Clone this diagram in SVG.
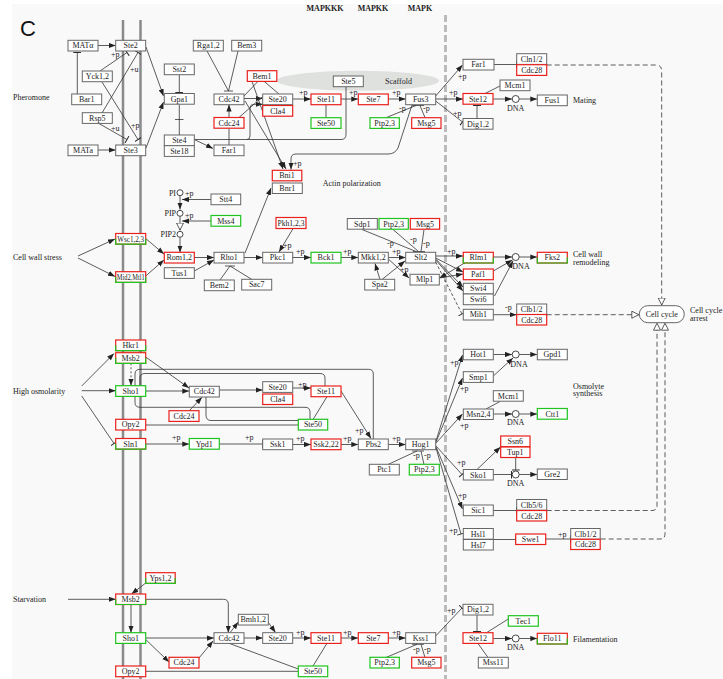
<svg xmlns="http://www.w3.org/2000/svg" width="723" height="679" viewBox="0 0 723 679">
<defs>
<style>
.b{fill:#fff;stroke:#666;stroke-width:1}
.r{fill:#fff;stroke:#e8201c;stroke-width:1.2}
.g{fill:#fff;stroke:#1fc41f;stroke-width:1.2}
.gs{fill:none;stroke:#1fc41f;stroke-width:1.2}
.t{font-family:"Liberation Serif",serif;font-size:8px;text-anchor:middle;fill:#222}
.s{font-family:"Liberation Serif",serif;font-size:8px;fill:#222}
.h{font-family:"Liberation Serif",serif;font-size:8px;font-weight:bold;text-anchor:middle;fill:#222}
.l{stroke:#333;stroke-width:0.8;fill:none}
.a{marker-end:url(#ah)}
.i{marker-end:url(#bar)}
.o{marker-end:url(#ot)}
.d{stroke-dasharray:5,3}
.c{fill:#fff;stroke:#333;stroke-width:0.9}
.mem{stroke:#8a8a8a;stroke-width:2.5}
</style>
<marker id="ah" viewBox="0 0 8 6" markerWidth="7" markerHeight="5.5" refX="8" refY="3" orient="auto" markerUnits="userSpaceOnUse"><path d="M0,0L8,3L0,6z" fill="#222"/></marker>
<marker id="bar" viewBox="0 0 2 10" markerWidth="2" markerHeight="8" refX="1" refY="5" orient="auto" markerUnits="userSpaceOnUse"><path d="M1,0V10" stroke="#222" stroke-width="1.2"/></marker>
<marker id="ot" viewBox="0 0 8 8" markerWidth="8" markerHeight="8" refX="8" refY="4" orient="auto" markerUnits="userSpaceOnUse"><path d="M0.5,0.5L7.5,4L0.5,7.5z" fill="#fff" stroke="#333" stroke-width="0.8"/></marker>
</defs>
<rect x="0" y="0" width="723" height="679" fill="#fff"/>
<rect x="12" y="4" width="711" height="675" fill="#f9f9f9"/>
<text x="20" y="36" font-family="Liberation Sans,sans-serif" font-size="22" fill="#111">C</text>
<line class="mem" x1="123" y1="20" x2="123" y2="679"/>
<line class="mem" x1="140.5" y1="20" x2="140.5" y2="679"/>
<line x1="445.5" y1="15" x2="445.5" y2="679" stroke="#bbb" stroke-width="3" stroke-dasharray="7,3"/>
<ellipse cx="358" cy="80.7" rx="81" ry="10" fill="#dfe1df"/>
<text class="h" x="325" y="11">MAPKKK</text>
<text class="h" x="373" y="11">MAPKK</text>
<text class="h" x="420" y="11">MAPK</text>
<text class="s" x="13" y="100">Pheromone</text>
<text class="s" x="13" y="259.5">Cell wall stress</text>
<text class="s" x="13" y="393.5">High osmolarity</text>
<text class="s" x="13" y="601.5">Starvation</text>
<text class="s" x="385" y="84">Scaffold</text>
<text class="s" x="322.7" y="186">Actin polarization</text>
<text class="s" x="573" y="103">Mating</text>
<text class="s" x="573" y="257">Cell wall</text>
<text class="s" x="573" y="265">remodeling</text>
<text class="s" x="573" y="388.5">Osmolyte</text>
<text class="s" x="573" y="396">synthesis</text>
<text class="s" x="690" y="313" font-size="7.5">Cell cycle</text>
<text class="s" x="690" y="320.5" font-size="7.5">arrest</text>
<text class="s" x="573" y="642">Filamentation</text>

<g id="connectors">
<path class="l a" d="M97.7,45.5H115.7"/>
<path class="l a" d="M97.7,150H115.7"/>
<path class="l i" d="M77.3,94V52.5"/>
<path class="l i" d="M100,71L127,52.5"/>
<path class="l i" d="M102,113L138,52.5"/>
<path class="l i" d="M102,82L138,139.5"/>
<path class="l i" d="M98,123L127,139.5"/>
<path class="l a" d="M146,47L163.5,96"/>
<path class="l a" d="M146,148L163.5,102"/>
<path class="l i" d="M179.3,75V92.5"/>
<path class="l" d="M179.3,104.5V135M175,119.5H183.5"/>
<path class="l a" d="M194.3,139.5L213,148.5"/>
<path class="l" d="M194.3,139.5H341Q346,139.5 346,134.5V86.7"/>
<path class="l a" d="M247,139.5Q250,139.5 250,136V108Q250,104.3 254,104.3H262.7"/>
<path class="l a" d="M244,98.5H262.7"/>
<path class="l" d="M258,81.3L244,96M264,81.3L279,94"/>
<path class="l" d="M239,117.5L262.7,96.5"/>
<path class="l a" d="M252,81.5L283,169"/>
<path class="l a" d="M245,101L286,169"/>
<path class="l a" d="M229,117.5V104.5"/>
<path class="l" d="M229,145V128.7"/>
<path class="l" d="M207,51L228.5,91M238,51L228.5,91M224,91H233"/>
<path class="l a" d="M412,105L398,148Q395,154 388,154H296Q291,154 291,159V169.5"/>
<path class="l a" d="M292.7,99H311"/>
<path class="l a" d="M341,99H358.3"/>
<path class="l a" d="M388.3,99H405.7"/>
<path class="l" d="M326,104.7V117.7"/>
<path class="l" d="M386,117.7L416,105.5M425,117.7L420,105.5M412,105.5H424"/>
<path class="l a" d="M435.7,96L462.5,65"/>
<path class="l a" d="M435.7,99H463"/>
<path class="l i" d="M435.7,101L462.5,122"/>
<path class="l" d="M500,86L485,93.5"/>
<path class="l i" d="M477,118.5V105.5"/>
<path class="l a" d="M493.3,99H512"/>
<path class="l a" d="M519.2,99H537.3"/>
<path class="l i" d="M494,64.5H516.5"/>
<path class="l d o" d="M546.7,65H656Q661.7,65 661.7,71V305.5"/>
<path class="l a" d="M211,199.5H182"/>
<path class="l a" d="M180,195.7V209.5"/>
<path class="l a" d="M211,221H182"/>
<path class="l o" d="M180,216.3V230.5"/>
<path class="l a" d="M180,237.3V252.5"/>
<path class="l a" d="M78,256L115,239"/>
<path class="l a" d="M78,258L115,276.5"/>
<path class="l a" d="M145.7,238.5L164,254"/>
<path class="l a" d="M145.7,276L164,260"/>
<path class="l a" d="M194.3,257.5H214"/>
<path class="l a" d="M194.3,271L214,260"/>
<path class="l" d="M220,280L230,266M252,279.5L230,266M225,266H235"/>
<path class="l a" d="M244,257.5H262.7"/>
<path class="l a" d="M245,253L271,188"/>
<path class="l a" d="M293,228.7L279,252"/>
<path class="l a" d="M292.7,257.5H311"/>
<path class="l a" d="M341,257.5H358.3"/>
<path class="l a" d="M388.3,257.5H405.7"/>
<path class="l a" d="M388.3,259L409,278"/>
<path class="l" d="M362,229.5L416,251.5M393,229.5L418.5,251.5M424,229.5L421,251.5M413,251.5H425"/>
<path class="l a" d="M380,279.5L375,263.5"/>
<path class="l a" d="M382,279.5L405,261"/>
<path class="l a" d="M435.7,256H463"/>
<path class="l a" d="M435.7,258L463,272"/>
<path class="l a" d="M435.7,259L463,287"/>
<path class="l a" d="M435.7,260L463,291"/>
<path class="l a" d="M465,262.7L439.5,278"/>
<path class="l a" d="M439.3,278L463,274"/>
<path class="l i" d="M435.7,262L462,314" stroke-dasharray="3,2"/>
<path class="l a" d="M493.3,257H512"/>
<path class="l a" d="M519.2,257H537.3"/>
<path class="l a" d="M493.3,271L512.5,260"/>
<path class="l a" d="M494.5,296L513,261"/>
<path class="l a" d="M493.3,314.7H516.5"/>
<path class="l d o" d="M546.7,314.7H639.3"/>
<path class="l a" d="M81.7,386L114,353.5"/>
<path class="l a" d="M81.7,390.7H115.7"/>
<path class="l i" d="M81.7,396L114,443.5"/>
<path class="l a" d="M131,363.3V385.7" stroke-dasharray="2,2"/>
<path class="l a" d="M145.7,357L189,388"/>
<path class="l a" d="M145.7,391H189.3"/>
<path class="l a" d="M189,411L202,397.3"/>
<path class="l a" d="M219.3,390H262.7"/>
<path class="l a" d="M292.7,388H311"/>
<path class="l" d="M135,385.7V374Q135,369.3 140,369.3H368.5Q373.3,369.3 373.3,374V439"/>
<path class="l" d="M140,385.7V378Q140,373.5 145,373.5H320Q325,373.5 325,378V386"/>
<path class="l" d="M135,396.3V402.5Q135,407.3 140,407.3H305Q310,407.3 310,412V419.5"/>
<path class="l" d="M206,396.7V415Q206,420.5 211,420.5H298.3"/>
<path class="l" d="M145.7,425H298.3"/>
<path class="l" d="M313,419.5L327,396.7"/>
<path class="l a" d="M341,391L371,438.5"/>
<path class="l a" d="M145.7,444H189.3"/>
<path class="l i" d="M219.3,444H262.7"/>
<path class="l a" d="M292.7,444.5H311"/>
<path class="l a" d="M341,444.5H358.3"/>
<path class="l a" d="M388.3,444.5H405.7"/>
<path class="l" d="M388,464.5L417,451M424,464.5L421,451M412,451H424"/>
<path class="l a" d="M436,441L462.5,355"/>
<path class="l a" d="M436,442L462.5,378"/>
<path class="l a" d="M436,443L462.5,414"/>
<path class="l i" d="M436,446L462,474.5"/>
<path class="l a" d="M436,447L462.5,509"/>
<path class="l i" d="M436,448L461,534"/>
<path class="l a" d="M493.3,354.5H512"/>
<path class="l a" d="M519.2,354.5H537.3"/>
<path class="l a" d="M493.3,376L513,358"/>
<path class="l" d="M500,401.5L486,409"/>
<path class="l a" d="M493.3,414H512"/>
<path class="l a" d="M519.2,414H537.3"/>
<path class="l a" d="M477,469.5L500.5,447"/>
<path class="l i" d="M515.7,457.7V470"/>
<path class="l i" d="M493.3,474.5H511.5"/>
<path class="l a" d="M519.2,474.5H537.3"/>
<path class="l i" d="M493.3,510.5H516.5"/>
<path class="l d o" d="M546.7,510.5H652Q657,510.5 657,505.5V322.7"/>
<path class="l i" d="M493.3,539.5H515.5"/>
<path class="l i" d="M545.7,539H570.5"/>
<path class="l d o" d="M600.7,539H660Q665,539 665,534V322.7"/>
<path class="l a" d="M68,599.3H115.7"/>
<path class="l a" d="M147,582L131.5,594"/>
<path class="l a" d="M131,604.3V632.7"/>
<path class="l a" d="M145.7,599.3H223.5Q228.3,599.3 228.3,604V632.7"/>
<path class="l a" d="M145.7,638H214"/>
<path class="l a" d="M145.7,639.5L169,662"/>
<path class="l a" d="M199,658L213,641"/>
<path class="l a" d="M230,632.7L238.3,622"/>
<path class="l a" d="M268,622L275.5,632.5"/>
<path class="l a" d="M244,638H262.7"/>
<path class="l" d="M229,643.3L298.3,669"/>
<path class="l" d="M145.7,671.3H298.3"/>
<path class="l" d="M313,666L327,643.3"/>
<path class="l a" d="M292.7,638H311"/>
<path class="l a" d="M341,638H358.3"/>
<path class="l a" d="M388.3,638H405.7"/>
<path class="l" d="M386,657.5L417,644.3M425,657.5L421,644.3M412,644.3H424"/>
<path class="l i" d="M435.7,636L462,608"/>
<path class="l i" d="M477,615V631.5"/>
<path class="l" d="M508.3,619L486,633"/>
<path class="l" d="M488,657.5L478,643.5"/>
<path class="l a" d="M493.3,638.5H512"/>
<path class="l a" d="M519.2,638.5H537.3"/>
</g>

<g id="labels">
<text class="s" x="111" y="57">+p</text>
<text class="s" x="130" y="72">+u</text>
<text class="s" x="131" y="128">+p</text>
<text class="s" x="111" y="131">+u</text>
<text class="s" x="299" y="95">+p</text>
<text class="s" x="349" y="95">+p</text>
<text class="s" x="392" y="95">+p</text>
<text class="s" x="399" y="111">-p</text>
<text class="s" x="423" y="111">-p</text>
<text class="s" x="458" y="79">+p</text>
<text class="s" x="449" y="95">+p</text>
<text class="s" x="453" y="116">+p</text>
<text class="s" x="293" y="166">+p</text>
<text class="s" x="185" y="196">+p</text>
<text class="s" x="185" y="218">+p</text>
<text class="s" x="283" y="248">+p</text>
<text class="s" x="296" y="254">+p</text>
<text class="s" x="343" y="254">+p</text>
<text class="s" x="392" y="254">+p</text>
<text class="s" x="400" y="272">+p</text>
<text class="s" x="387" y="246">-p</text>
<text class="s" x="410" y="241.5">-p</text>
<text class="s" x="423" y="246">-p</text>
<text class="s" x="447" y="254">+p</text>
<text class="s" x="505" y="310">-p</text>
<text class="s" x="298" y="387">+p</text>
<text class="s" x="355" y="433">+p</text>
<text class="s" x="172" y="440">+p</text>
<text class="s" x="245" y="440">+p</text>
<text class="s" x="296" y="441">+p</text>
<text class="s" x="343" y="441">+p</text>
<text class="s" x="392" y="441">+p</text>
<text class="s" x="413" y="458">-p</text>
<text class="s" x="424" y="458">-p</text>
<text class="s" x="450" y="365">+p</text>
<text class="s" x="460" y="391">+p</text>
<text class="s" x="460" y="428">+p</text>
<text class="s" x="457" y="465">+p</text>
<text class="s" x="458" y="498">+p</text>
<text class="s" x="449" y="533">+p</text>
<text class="s" x="558" y="537">+p</text>
<text class="s" x="296" y="635">+p</text>
<text class="s" x="343" y="635">+p</text>
<text class="s" x="392" y="635">+p</text>
<text class="s" x="413" y="652">-p</text>
<text class="s" x="424" y="652">-p</text>
<text class="s" x="447" y="613">+p</text>
<text class="s" x="176" y="195.5" text-anchor="end">PI</text>
<text class="s" x="176" y="216" text-anchor="end">PIP</text>
<text class="s" x="176" y="236.5" text-anchor="end">PIP2</text>
<text class="t" x="515.7" y="111">DNA</text>
<text class="t" x="521" y="269">DNA</text>
<text class="t" x="519" y="367">DNA</text>
<text class="t" x="515.7" y="425">DNA</text>
<text class="t" x="515.7" y="486">DNA</text>
<text class="t" x="515.7" y="650">DNA</text>
</g>

<g id="small-molecules">
<circle class="c" cx="180" cy="192.7" r="3"/>
<circle class="c" cx="180" cy="213.3" r="3"/>
<circle class="c" cx="180" cy="234.3" r="3"/>
<circle class="c" cx="515.7" cy="99" r="3.5"/>
<circle class="c" cx="515.7" cy="257" r="3.5"/>
<circle class="c" cx="515.7" cy="354.5" r="3.5"/>
<circle class="c" cx="515.7" cy="414" r="3.5"/>
<circle class="c" cx="515.7" cy="474.5" r="3.5"/>
<circle class="c" cx="515.7" cy="638.5" r="3.5"/>
</g>

<g id="n-MATalpha"><rect class="b" x="68" y="40.3" width="30" height="10.7"/><text class="t" x="83" y="48.3">MATα</text></g>
<g id="n-Ste2"><rect class="b" x="115.7" y="40.3" width="30" height="10.7"/><text class="t" x="130.7" y="48.3">Ste2</text></g>
<g id="n-Yck12"><rect class="b" x="82.3" y="71" width="30" height="10.7"/><text class="t" x="97.3" y="79">Yck1,2</text></g>
<g id="n-Bar1"><rect class="b" x="71.7" y="94" width="30" height="10.7"/><text class="t" x="86.7" y="102">Bar1</text></g>
<g id="n-Rsp5"><rect class="b" x="82.3" y="112.7" width="30" height="10.7"/><text class="t" x="97.3" y="120.7">Rsp5</text></g>
<g id="n-MATa"><rect class="b" x="68" y="145" width="30" height="10.7"/><text class="t" x="83" y="153">MATa</text></g>
<g id="n-Ste3"><rect class="b" x="115.7" y="145" width="30" height="10.7"/><text class="t" x="130.7" y="153">Ste3</text></g>
<g id="n-Sst2"><rect class="b" x="164.3" y="64" width="30" height="10.7"/><text class="t" x="179.3" y="72">Sst2</text></g>
<g id="n-Gpa1"><rect class="b" x="164.3" y="93.5" width="30" height="10.7"/><text class="t" x="179.3" y="101.5">Gpa1</text></g>
<g id="n-Ste4"><rect class="b" x="164.3" y="135" width="30" height="10.7"/><text class="t" x="179.3" y="143">Ste4</text><rect class="b" x="164.3" y="145.7" width="30" height="10.7"/><text class="t" x="179.3" y="153.7">Ste18</text></g>
<g id="n-Rga12"><rect class="b" x="193.3" y="40.3" width="30" height="10.7"/><text class="t" x="208.3" y="48.3">Rga1,2</text></g>
<g id="n-Bem3"><rect class="b" x="231.7" y="40.3" width="30" height="10.7"/><text class="t" x="246.7" y="48.3">Bem3</text></g>
<g id="n-Cdc42a"><rect class="b" x="214" y="94" width="30" height="10.7"/><text class="t" x="229" y="102">Cdc42</text></g>
<g id="n-Cdc24a"><rect class="r" x="214" y="117.5" width="30" height="10.7"/><text class="t" x="229" y="125.5">Cdc24</text></g>
<g id="n-Far1a"><rect class="b" x="214" y="145" width="30" height="10.7"/><text class="t" x="229" y="153">Far1</text></g>
<g id="n-Bem1"><rect class="r" x="247.3" y="70.7" width="29.5" height="10.7"/><text class="t" x="262" y="78.7">Bem1</text></g>
<g id="n-Ste20a"><rect class="b" x="262.7" y="94" width="30" height="10.7"/><text class="t" x="277.7" y="102">Ste20</text></g>
<g id="n-Cla4a"><rect class="r" x="262.7" y="105.5" width="30" height="10.7"/><text class="t" x="277.7" y="113.5">Cla4</text></g>
<g id="n-Ste5"><rect class="b" x="333.3" y="76" width="30" height="10.7"/><text class="t" x="348.3" y="84">Ste5</text></g>
<g id="n-Ste11a"><rect class="r" x="311" y="94" width="30" height="10.7"/><text class="t" x="326" y="102">Ste11</text></g>
<g id="n-Ste50a"><rect class="g" x="311" y="117.7" width="30" height="10.7"/><text class="t" x="326" y="125.7">Ste50</text></g>
<g id="n-Ste7a"><rect class="r" x="358.3" y="94" width="30" height="10.7"/><text class="t" x="373.3" y="102">Ste7</text></g>
<g id="n-Fus3"><rect class="b" x="405.7" y="94" width="30" height="10.7"/><text class="t" x="420.7" y="102">Fus3</text></g>
<g id="n-Ptp23a"><rect class="g" x="370" y="117.7" width="29.3" height="10.7"/><text class="t" x="384.7" y="125.7">Ptp2,3</text></g>
<g id="n-Msg5a"><rect class="r" x="411.7" y="117.7" width="29.3" height="10.7"/><text class="t" x="426.3" y="125.7">Msg5</text></g>
<g id="n-Bni1"><rect class="r" x="272.3" y="170.3" width="29.5" height="10.5"/><text class="t" x="287" y="178.3">Bni1</text></g>
<g id="n-Bnr1"><rect class="b" x="272.3" y="183" width="30" height="10.5"/><text class="t" x="287.3" y="191">Bnr1</text></g>
<g id="n-Far1b"><rect class="b" x="463" y="59.3" width="31" height="10.7"/><text class="t" x="478.5" y="67.3">Far1</text></g>
<g id="n-Cln12"><rect class="b" x="516.7" y="53.7" width="30" height="10.7"/><text class="t" x="531.7" y="61.7">Cln1/2</text><rect class="r" x="516.7" y="64.7" width="30" height="10.7"/><text class="t" x="531.7" y="72.7">Cdc28</text></g>
<g id="n-Mcm1a"><rect class="b" x="500" y="80" width="30" height="10.7"/><text class="t" x="515" y="88">Mcm1</text></g>
<g id="n-Ste12a"><rect class="r" x="463" y="93.5" width="30" height="10.7"/><text class="t" x="478" y="101.5">Ste12</text></g>
<g id="n-Fus1"><rect class="b" x="537.3" y="95" width="30" height="10.7"/><text class="t" x="552.3" y="103">Fus1</text></g>
<g id="n-Dig12a"><rect class="b" x="463" y="118.5" width="30" height="10.7"/><text class="t" x="478" y="126.5">Dig1,2</text></g>

<g id="n-Stt4"><rect class="b" x="211" y="194" width="29.7" height="10.7"/><text class="t" x="225.8" y="202">Stt4</text></g>
<g id="n-Mss4"><rect class="g" x="211" y="215.5" width="29.7" height="10.7"/><text class="t" x="225.8" y="223.5">Mss4</text></g>
<g id="n-Pkh123"><rect class="r" x="276" y="217.5" width="30" height="11"/><text class="t" x="291" y="225.7" textLength="27" lengthAdjust="spacingAndGlyphs">Pkh1,2,3</text></g>
<g id="n-Sdp1"><rect class="b" x="347.3" y="218.5" width="30" height="10.7"/><text class="t" x="362.3" y="226.5">Sdp1</text></g>
<g id="n-Ptp23b"><rect class="g" x="379" y="218.5" width="29.3" height="10.7"/><text class="t" x="393.7" y="226.5">Ptp2,3</text></g>
<g id="n-Msg5b"><rect class="r" x="410.3" y="218.5" width="29.3" height="10.7"/><text class="t" x="425" y="226.5">Msg5</text></g>
<g id="n-Wsc123"><rect class="r" x="115.7" y="233.5" width="30" height="10.7"/><path class="gs" d="M115.7,238.8V244.2H145.7V238.8"/><text class="t" x="130.7" y="241.5" textLength="27" lengthAdjust="spacingAndGlyphs">Wsc1,2,3</text></g>
<g id="n-Mid2"><rect class="r" x="115.7" y="271.7" width="30" height="10.7"/><path class="gs" d="M115.7,277V282.4H145.7V277"/><text class="t" x="130.7" y="279.7" textLength="28" lengthAdjust="spacingAndGlyphs">Mid2,Mtl1</text></g>
<g id="n-Rom12"><rect class="r" x="164.3" y="252.3" width="30" height="10.7"/><text class="t" x="179.3" y="260.3">Rom1,2</text></g>
<g id="n-Tus1"><rect class="b" x="164.3" y="267.7" width="30" height="10.7"/><text class="t" x="179.3" y="275.7">Tus1</text></g>
<g id="n-Rho1"><rect class="b" x="214" y="252.3" width="30" height="10.7"/><text class="t" x="229" y="260.3">Rho1</text></g>
<g id="n-Bem2"><rect class="b" x="204.3" y="280" width="30" height="10.7"/><text class="t" x="219.3" y="288">Bem2</text></g>
<g id="n-Sac7"><rect class="b" x="241.7" y="279.3" width="30" height="10.7"/><text class="t" x="256.7" y="287.3">Sac7</text></g>
<g id="n-Pkc1"><rect class="b" x="262.7" y="252.3" width="30" height="10.7"/><text class="t" x="277.7" y="260.3">Pkc1</text></g>
<g id="n-Bck1"><rect class="g" x="311" y="252.3" width="30" height="10.7"/><text class="t" x="326" y="260.3">Bck1</text></g>
<g id="n-Mkk12"><rect class="b" x="358.3" y="252.3" width="30" height="10.7"/><text class="t" x="373.3" y="260.3">Mkk1,2</text></g>
<g id="n-Slt2"><rect class="b" x="405.7" y="252.3" width="30" height="10.7"/><text class="t" x="420.7" y="260.3">Slt2</text></g>
<g id="n-Mlp1"><rect class="b" x="410" y="274.3" width="29.3" height="10.7"/><text class="t" x="424.7" y="282.3">Mlp1</text></g>
<g id="n-Spa2"><rect class="b" x="364.7" y="279.3" width="30" height="10.7"/><text class="t" x="379.7" y="287.3">Spa2</text></g>
<g id="n-Rlm1"><rect class="r" x="463.3" y="252.3" width="30" height="10.7"/><path class="gs" d="M463.3,257.6V263H493.3V257.6"/><text class="t" x="478.3" y="260.3">Rlm1</text></g>
<g id="n-Paf1"><rect class="r" x="463.3" y="269" width="30" height="10.7"/><text class="t" x="478.3" y="277">Paf1</text></g>
<g id="n-Swi46"><rect class="b" x="463.3" y="283.3" width="30" height="10.7"/><text class="t" x="478.3" y="291.3">Swi4</text><rect class="b" x="463.3" y="294" width="30" height="10.7"/><text class="t" x="478.3" y="302">Swi6</text></g>
<g id="n-Mih1"><rect class="b" x="463.3" y="309.3" width="30" height="10.7"/><text class="t" x="478.3" y="317.3">Mih1</text></g>
<g id="n-Fks2"><rect class="r" x="537.3" y="252.3" width="30" height="10.7"/><path class="gs" d="M537.3,257.6V263H567.3V257.6"/><text class="t" x="552.3" y="260.3">Fks2</text></g>
<g id="n-Clb12a"><rect class="b" x="516.7" y="304" width="30" height="10.5"/><text class="t" x="531.7" y="312">Clb1/2</text><rect class="r" x="516.7" y="314.5" width="30" height="10.5"/><text class="t" x="531.7" y="322.5">Cdc28</text></g>
<g id="n-CellCycle"><rect class="b" x="639.3" y="305.7" width="45" height="17" rx="8.5"/><text class="t" x="661.8" y="317">Cell cycle</text></g>

<g id="n-Hkr1"><rect class="r" x="115.7" y="340" width="30" height="10.7"/><path class="gs" d="M115.7,345.3V350.7H145.7V345.3"/><text class="t" x="130.7" y="348">Hkr1</text></g>
<g id="n-Msb2a"><rect class="r" x="115.7" y="352.7" width="30" height="10.7"/><path class="gs" d="M115.7,358V363.4H145.7V358"/><text class="t" x="130.7" y="360.7">Msb2</text></g>
<g id="n-Sho1a"><rect class="g" x="115.7" y="385.7" width="30" height="10.7"/><text class="t" x="130.7" y="393.7">Sho1</text></g>
<g id="n-Opy2a"><rect class="r" x="115.7" y="419.3" width="30" height="10.7"/><text class="t" x="130.7" y="427.3">Opy2</text></g>
<g id="n-Sln1"><rect class="r" x="115.7" y="438.5" width="30" height="10.7"/><path class="gs" d="M115.7,443.8V449.2H145.7V443.8"/><text class="t" x="130.7" y="446.5">Sln1</text></g>
<g id="n-Cdc42b"><rect class="b" x="189.3" y="386.3" width="30" height="10.7"/><text class="t" x="204.3" y="394.3">Cdc42</text></g>
<g id="n-Cdc24b"><rect class="r" x="169" y="410.7" width="30" height="10.7"/><text class="t" x="184" y="418.7">Cdc24</text></g>
<g id="n-Ste20b"><rect class="b" x="262.7" y="381.7" width="30" height="10.7"/><text class="t" x="277.7" y="389.7">Ste20</text></g>
<g id="n-Cla4b"><rect class="r" x="262.7" y="394" width="30" height="10.5"/><text class="t" x="277.7" y="402">Cla4</text></g>
<g id="n-Ste11b"><rect class="r" x="311" y="386" width="30" height="10.7"/><text class="t" x="326" y="394">Ste11</text></g>
<g id="n-Ste50b"><rect class="g" x="298.3" y="419.3" width="29.4" height="10.7"/><text class="t" x="313" y="427.3">Ste50</text></g>
<g id="n-Ypd1"><rect class="g" x="189.3" y="438.5" width="30" height="10.7"/><text class="t" x="204.3" y="446.5">Ypd1</text></g>
<g id="n-Ssk1"><rect class="b" x="262.7" y="439" width="30" height="10.7"/><text class="t" x="277.7" y="447">Ssk1</text></g>
<g id="n-Ssk222"><rect class="r" x="311" y="439" width="30" height="10.7"/><text class="t" x="326" y="447">Ssk2,22</text></g>
<g id="n-Pbs2"><rect class="b" x="358.3" y="439" width="30" height="10.7"/><text class="t" x="373.3" y="447">Pbs2</text></g>
<g id="n-Hog1"><rect class="b" x="405.7" y="439" width="30" height="10.7"/><text class="t" x="420.7" y="447">Hog1</text></g>
<g id="n-Ptc1"><rect class="b" x="369.3" y="464.3" width="30" height="10.7"/><text class="t" x="384.3" y="472.3">Ptc1</text></g>
<g id="n-Ptp23c"><rect class="g" x="409.3" y="464.3" width="30" height="10.7"/><text class="t" x="424.3" y="472.3">Ptp2,3</text></g>
<g id="n-Hot1"><rect class="b" x="463.3" y="349.3" width="30" height="10.5"/><text class="t" x="478.3" y="357.3">Hot1</text></g>
<g id="n-Gpd1"><rect class="b" x="537.3" y="349.3" width="30" height="10.5"/><text class="t" x="552.3" y="357.3">Gpd1</text></g>
<g id="n-Smp1"><rect class="b" x="463.3" y="371.7" width="30" height="10.7"/><text class="t" x="478.3" y="379.7">Smp1</text></g>
<g id="n-Mcm1b"><rect class="b" x="493.3" y="390.7" width="30" height="10.5"/><text class="t" x="508.3" y="398.7">Mcm1</text></g>
<g id="n-Msn24"><rect class="b" x="463.3" y="409" width="30" height="10.5"/><text class="t" x="478.3" y="417">Msn2,4</text></g>
<g id="n-Ctt1"><rect class="g" x="537.3" y="408.5" width="30" height="10.7"/><text class="t" x="552.3" y="416.5">Ctt1</text></g>
<g id="n-Ssn6"><rect class="r" x="500.7" y="436" width="29.3" height="10.7"/><text class="t" x="515.3" y="444">Ssn6</text><rect class="r" x="500.7" y="447" width="29.3" height="10.5"/><text class="t" x="515.3" y="455">Tup1</text></g>
<g id="n-Sko1"><rect class="b" x="463.3" y="469.5" width="30" height="10.5"/><text class="t" x="478.3" y="477.5">Sko1</text></g>
<g id="n-Gre2"><rect class="b" x="537.3" y="469" width="30" height="10.5"/><text class="t" x="552.3" y="477">Gre2</text></g>
<g id="n-Sic1"><rect class="b" x="463.3" y="505" width="30" height="10.7"/><text class="t" x="478.3" y="513">Sic1</text></g>
<g id="n-Clb56"><rect class="b" x="516.7" y="499.5" width="30" height="10.7"/><text class="t" x="531.7" y="507.5">Clb5/6</text><rect class="r" x="516.7" y="510.5" width="30" height="10.5"/><text class="t" x="531.7" y="518.5">Cdc28</text></g>
<g id="n-Hsl17"><rect class="b" x="463.3" y="528.5" width="30" height="10.7"/><text class="t" x="478.3" y="536.5">Hsl1</text><rect class="b" x="463.3" y="539.5" width="30" height="10.5"/><text class="t" x="478.3" y="547.5">Hsl7</text></g>
<g id="n-Swe1"><rect class="r" x="515.7" y="534" width="30" height="10.5"/><text class="t" x="530.7" y="542">Swe1</text></g>
<g id="n-Clb12b"><rect class="b" x="570.7" y="528.5" width="29.5" height="10.7"/><text class="t" x="585.5" y="536.5">Clb1/2</text><rect class="r" x="570.7" y="539.3" width="29.5" height="10.2"/><text class="t" x="585.5" y="547.3">Cdc28</text></g>

<g id="n-Yps12"><rect class="r" x="145.7" y="572.7" width="29.5" height="10.7"/><path class="gs" d="M145.7,578V583.4H175.2V578"/><text class="t" x="160.5" y="580.7">Yps1,2</text></g>
<g id="n-Msb2b"><rect class="r" x="115.7" y="594" width="30" height="10.5"/><path class="gs" d="M115.7,599.2V604.5H145.7V599.2"/><text class="t" x="130.7" y="602">Msb2</text></g>
<g id="n-Sho1b"><rect class="g" x="115.7" y="632.7" width="30" height="10.7"/><text class="t" x="130.7" y="640.7">Sho1</text></g>
<g id="n-Opy2b"><rect class="r" x="115.7" y="666" width="30" height="10.7"/><text class="t" x="130.7" y="674">Opy2</text></g>
<g id="n-Cdc24c"><rect class="r" x="169" y="657.3" width="30" height="10.7"/><text class="t" x="184" y="665.3">Cdc24</text></g>
<g id="n-Cdc42c"><rect class="b" x="214" y="632.7" width="30" height="10.7"/><text class="t" x="229" y="640.7">Cdc42</text></g>
<g id="n-Bmh12"><rect class="b" x="238.3" y="614.3" width="30" height="10.7"/><text class="t" x="253.3" y="622.3">Bmh1,2</text></g>
<g id="n-Ste20c"><rect class="b" x="262.7" y="632.7" width="30" height="10.7"/><text class="t" x="277.7" y="640.7">Ste20</text></g>
<g id="n-Ste11c"><rect class="r" x="311" y="632.7" width="30" height="10.7"/><text class="t" x="326" y="640.7">Ste11</text></g>
<g id="n-Ste7c"><rect class="r" x="358.3" y="632.7" width="30" height="10.7"/><text class="t" x="373.3" y="640.7">Ste7</text></g>
<g id="n-Kss1"><rect class="b" x="405.7" y="632.7" width="30" height="10.7"/><text class="t" x="420.7" y="640.7">Kss1</text></g>
<g id="n-Ptp23d"><rect class="g" x="370" y="657.3" width="29.3" height="10.7"/><text class="t" x="384.7" y="665.3">Ptp2,3</text></g>
<g id="n-Msg5c"><rect class="r" x="411.7" y="657.3" width="29.3" height="10.7"/><text class="t" x="426.3" y="665.3">Msg5</text></g>
<g id="n-Ste50c"><rect class="g" x="298.3" y="666" width="29.4" height="10.7"/><text class="t" x="313" y="674">Ste50</text></g>
<g id="n-Dig12b"><rect class="b" x="463" y="604.3" width="30" height="10.7"/><text class="t" x="478" y="612.3">Dig1,2</text></g>
<g id="n-Tec1"><rect class="g" x="508.3" y="615.7" width="30" height="10.5"/><text class="t" x="523.3" y="623.7">Tec1</text></g>
<g id="n-Ste12b"><rect class="r" x="463" y="632.7" width="30" height="10.7"/><text class="t" x="478" y="640.7">Ste12</text></g>
<g id="n-Flo11"><rect class="r" x="537.3" y="633.3" width="30" height="10.7"/><path class="gs" d="M537.3,638.6V644H567.3V638.6"/><text class="t" x="552.3" y="641.3">Flo11</text></g>
<g id="n-Mss11"><rect class="b" x="478.3" y="657.3" width="30" height="10.7"/><text class="t" x="493.3" y="665.3">Mss11</text></g>
</svg>
